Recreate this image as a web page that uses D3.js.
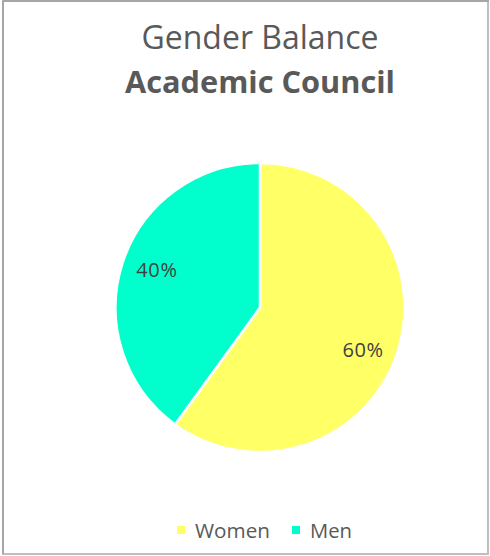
<!DOCTYPE html>
<html>
<head>
<meta charset="utf-8">
<script src="https://cdn.jsdelivr.net/npm/d3@7"></script>
<style>
  html, body { margin: 0; padding: 0; background: #fff; }
  svg { display: block; }
</style>
</head>
<body>
<svg id="chart" width="490" height="556"></svg>
<script>
// Council membership by gender (percent)
const categories = ["Women", "Men"];
const shares = [60, 40];
const colors = ["#FFFF66", "#00FFCC"];
const titleLine1 = "Gender Balance";
const titleLine2 = "Academic Council";

const W = 490, H = 556;
const svg = d3.select("#chart");
const font = "'Open Sans', 'Noto Sans', sans-serif";

// chart frame
svg.append("rect")
  .attr("x", 3).attr("y", 1).attr("width", W - 5).attr("height", H - 3)
  .attr("fill", "#fff").attr("stroke", "#bfbfbf").attr("stroke-width", 2);
svg.append("line").attr("x1", 3).attr("x2", W - 1).attr("y1", 1).attr("y2", 1)
  .attr("stroke", "#a6a6a6").attr("stroke-width", 2);
svg.append("line").attr("x1", 3).attr("x2", 3).attr("y1", 1).attr("y2", H - 2)
  .attr("stroke", "#a6a6a6").attr("stroke-width", 2);

// scale a text element's font size so it spans the given width
function fitText(sel, width) {
  const w = sel.node().getComputedTextLength();
  const fs = parseFloat(sel.attr("font-size"));
  sel.attr("font-size", fs * width / w);
}

// titles
const t1 = svg.append("text")
  .attr("x", 260).attr("y", 49).attr("text-anchor", "middle")
  .attr("font-family", font).attr("font-size", 28).attr("fill", "#595959")
  .text(titleLine1);
fitText(t1, 237);
const t2 = svg.append("text")
  .attr("x", 260).attr("y", 93).attr("text-anchor", "middle")
  .attr("font-family", font).attr("font-size", 28).attr("font-weight", "bold")
  .attr("fill", "#595959")
  .text(titleLine2);
fitText(t2, 270);

// pie
const cx = 260, cy = 307.5, r = 144.5;
const pie = d3.pie().sort(null).value(d => d.v);
const data = categories.map((c, i) => ({ c, v: shares[i] }));
const arcs = pie(data);
const arc = d3.arc().innerRadius(0).outerRadius(r);
const labelArc = d3.arc().innerRadius(r * 0.75).outerRadius(r * 0.75);
const color = d3.scaleOrdinal().domain(categories).range(colors);

const g = svg.append("g").attr("transform", `translate(${cx},${cy})`);
g.selectAll("path").data(arcs).join("path")
  .attr("d", arc)
  .attr("fill", d => color(d.data.c))
  .attr("stroke", "#fff").attr("stroke-width", 2.5)
  .attr("stroke-linejoin", "round");

// value labels, pushed slightly away from the horizontal axis
g.selectAll("text").data(arcs).join("text")
  .attr("transform", d => {
    const [x, y] = labelArc.centroid(d);
    return `translate(${x},${y * 1.2 + 2})`;
  })
  .attr("text-anchor", "middle").attr("dominant-baseline", "central")
  .attr("font-family", font).attr("font-size", 20).attr("letter-spacing", 0.6)
  .attr("fill", "#404040")
  .text(d => d.data.v + "%");

// legend
const legend = svg.append("g").attr("transform", "translate(0,530)");
const legendX = [177, 292];
const legendTextW = [75, 42];
categories.forEach((c, i) => {
  const lg = legend.append("g").attr("transform", `translate(${legendX[i]},0)`);
  lg.append("rect").attr("x", 0).attr("y", -4).attr("width", 8).attr("height", 8)
    .attr("fill", color(c));
  const lt = lg.append("text").attr("x", 18).attr("y", 0)
    .attr("dominant-baseline", "central")
    .attr("font-family", font).attr("font-size", 19).attr("fill", "#595959")
    .text(c);
  fitText(lt, legendTextW[i]);
});
</script>
</body>
</html>
